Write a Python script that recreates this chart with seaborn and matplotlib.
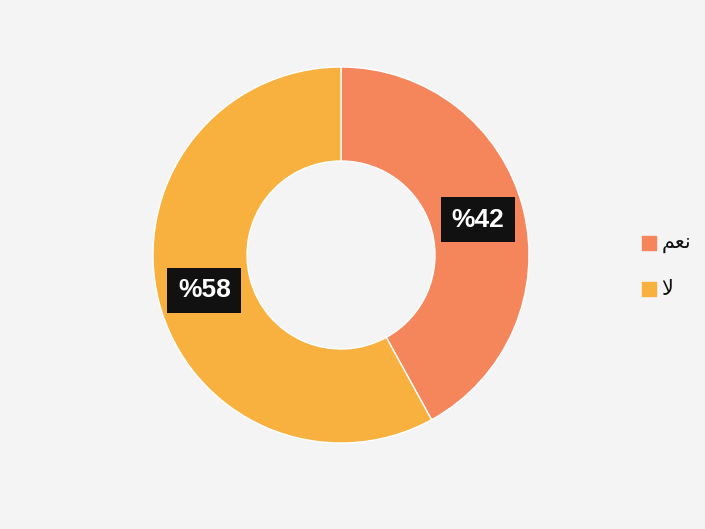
import numpy as np
import matplotlib.pyplot as plt
import seaborn as sns

answers = ["نعم", "لا"]
# presentation forms so the Arabic letters join and read right to left
shown = {"نعم": "\ufee2\ufecc\ufee7", "لا": "\ufefb"}
shares = [42, 58]
colors = ["#f5865c", "#f8b03e"]

sns.set_theme(style="white")
plt.rcParams['font.family'] = ['DejaVu Sans']

fig = plt.figure(figsize=(7.05, 5.29), dpi=100, facecolor="#f4f4f5")
ax = fig.add_axes([0.0, 0.0, 1.0, 1.0])
ax.set_facecolor("#f4f4f5")

wedges, _ = ax.pie(shares, colors=colors, startangle=90, counterclock=False,
                   radius=1.0, center=(0, 0),
                   wedgeprops=dict(width=0.5, edgecolor="white", linewidth=1))

for w, v in zip(wedges, shares):
    mid = np.deg2rad((w.theta1 + w.theta2) / 2)
    ax.text(0.75 * np.cos(mid), 0.75 * np.sin(mid), "%" + str(v),
            ha="center", va="center", color="white", fontsize=19,
            fontweight="bold", family="Liberation Sans",
            bbox=dict(boxstyle="square,pad=0.4", fc="#111111", ec="none"))

for i, a in enumerate(answers):
    y = 0.065 - i * 0.245
    ax.scatter([1.64], [y], marker="s", s=110, color=colors[i])
    ax.text(1.705, y, shown[a], ha="left", va="center", fontsize=15, color="#111111")

# axis limits: center at (341,255) px, radius ~188 px
s = 188.0
ax.set_xlim(-341 / s, (705 - 341) / s)
ax.set_ylim(-(529 - 255) / s, 255 / s)
ax.set_aspect("equal")
ax.axis("off")

fig.savefig("out.png", dpi=100, facecolor=fig.get_facecolor())
